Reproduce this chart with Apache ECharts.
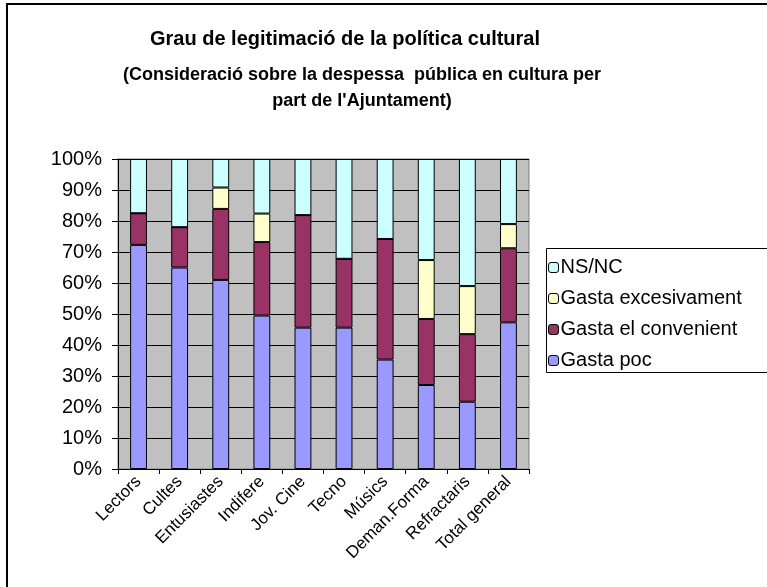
<!DOCTYPE html>
<html>
<head>
<meta charset="utf-8">
<script src="https://cdn.jsdelivr.net/npm/echarts@6/dist/echarts.min.js"></script>
<style>
  html, body { margin: 0; padding: 0; background: #fff; }
  #chart { width: 767px; height: 587px; }
</style>
</head>
<body>
<div id="chart"></div>
<script>
// categories (x axis)
const categories = ['Lectors', 'Cultes', 'Entusiastes', 'Indifere', 'Jov. Cine', 'Tecno', 'Músics', 'Deman.Forma', 'Refractaris', 'Total general']
// percentages per segment
const gastaPoc = [72.3, 65.0, 61.0, 49.5, 45.6, 45.6, 35.3, 27.1, 21.7, 47.3]
const gastaConvenient = [10.2, 13.0, 22.9, 23.7, 36.3, 22.2, 38.9, 21.3, 21.8, 23.9]
const gastaExcesivament = [0, 0, 6.9, 9.2, 0, 0, 0, 19.0, 15.5, 7.8]
const nsnc = [17.5, 22.0, 9.2, 17.6, 18.1, 32.2, 25.8, 32.6, 41.0, 21.0]
// y ticks
const yTicks = [0, 10, 20, 30, 40, 50, 60, 70, 80, 90, 100]

const FONT = '"Liberation Sans", Arial, sans-serif'

function barSerie(name, data, color) {
  return {
    name: name,
    type: 'bar',
    stack: 'total',
    data: data,
    barWidth: '41%',
    itemStyle: { color: color, borderColor: '#000', borderWidth: 1 },
    emphasis: { disabled: true }
  }
}

const chart = echarts.init(document.getElementById('chart'))
const option = {
  animation: false,
  backgroundColor: '#fff',
  textStyle: { fontFamily: FONT, color: '#000' },
  title: [
    {
      text: 'Grau de legitimació de la política cultural',
      left: 340,
      top: 24,
      textAlign: 'center',
      textStyle: { fontFamily: FONT, fontSize: 20, fontWeight: 'bold', color: '#000' }
    },
    {
      text: "(Consideració sobre la despessa  pública en cultura per\npart de l'Ajuntament)",
      left: 357,
      top: 57,
      textAlign: 'center',
      textStyle: { fontFamily: FONT, fontSize: 18, fontWeight: 'bold', color: '#000', lineHeight: 26, align: 'center' }
    }
  ],
  graphic: [
    // outer chart frame
    {
      type: 'rect',
      shape: { x: 7, y: 4, width: 900, height: 900 },
      style: { fill: 'none', stroke: '#000', lineWidth: 2 },
      silent: true
    },
    // legend frame (runs off the right edge like the original)
    {
      type: 'rect',
      shape: { x: 546.5, y: 248.5, width: 300, height: 124 },
      style: { fill: '#fff', stroke: '#000', lineWidth: 1 },
      silent: true,
      z: -1
    }
  ],
  legend: {
    orient: 'vertical',
    left: 546,
    top: 248,
    data: ['NS/NC', 'Gasta excesivament', 'Gasta el convenient', 'Gasta poc'],
    itemWidth: 10,
    itemHeight: 10,
    itemGap: 8,
    padding: [8, 0, 4, 2],
    textStyle: { fontFamily: FONT, fontSize: 20, color: '#000', padding: [0, 0, 0, -3], lineHeight: 23 },
    itemStyle: { borderColor: '#000', borderWidth: 1 }
  },
  grid: {
    left: 118,
    right: 238,
    top: 159,
    bottom: 118,
    show: true,
    backgroundColor: '#C0C0C0',
    borderColor: '#808080',
    borderWidth: 1
  },
  xAxis: {
    type: 'category',
    data: categories,
    axisLine: { lineStyle: { color: '#000', width: 1 } },
    axisTick: { show: true, length: 5, lineStyle: { color: '#000' } },
    axisLabel: { rotate: 45, fontSize: 17, color: '#000', fontFamily: FONT, margin: 10, interval: 0 }
  },
  yAxis: {
    type: 'value',
    min: 0,
    max: 100,
    interval: 10,
    axisLine: { show: true, lineStyle: { color: '#000', width: 1 } },
    axisTick: { show: true, length: 6, lineStyle: { color: '#000' } },
    axisLabel: { formatter: '{value}%', fontSize: 20, color: '#000', fontFamily: FONT, margin: 16 },
    splitLine: { show: true, lineStyle: { color: '#000', width: 1 } }
  },
  series: [
    barSerie('Gasta poc', gastaPoc, '#9999FF'),
    barSerie('Gasta el convenient', gastaConvenient, '#993366'),
    barSerie('Gasta excesivament', gastaExcesivament, '#FFFFCC'),
    barSerie('NS/NC', nsnc, '#CCFFFF')
  ]
}
chart.setOption(option)
</script>
</body>
</html>
